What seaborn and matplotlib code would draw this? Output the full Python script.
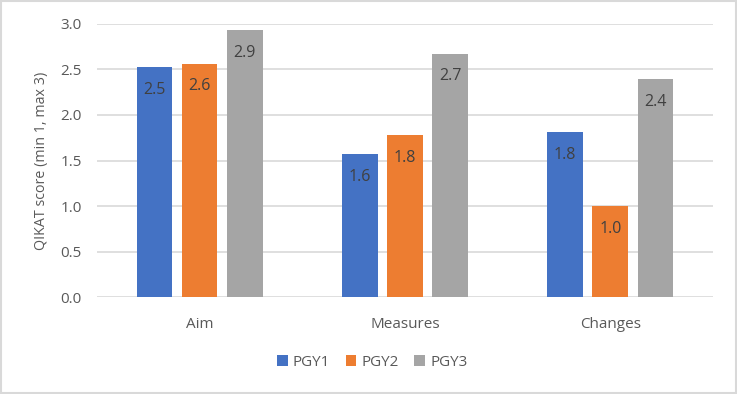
"""
QIKAT score by PGY level - grouped bar chart (Excel style)
"""

import pandas as pd
import matplotlib
matplotlib.use("Agg")
import matplotlib.pyplot as plt
from matplotlib.patches import Rectangle
import seaborn as sns

#data
categories = ["Aim", "Measures", "Changes"]
groups = ["PGY1", "PGY2", "PGY3"]
pgy1 = [2.52, 1.57, 1.81]
pgy2 = [2.56, 1.78, 1.00]
pgy3 = [2.93, 2.67, 2.39]
yticks = [0.0, 0.5, 1.0, 1.5, 2.0, 2.5, 3.0]

colors = ["#4472C4", "#ED7D31", "#A5A5A5"]
text_col = "#595959"

df = pd.DataFrame({
    "category": categories * 3,
    "group": [g for g in groups for _ in categories],
    "score": pgy1 + pgy2 + pgy3,
})

sns.set_style("white")
plt.rcParams["font.family"] = ["Open Sans", "DejaVu Sans"]

fig = plt.figure(figsize=(7.37, 3.94), dpi=100)
ax = fig.add_axes([0.1316, 0.245, 0.8358, 0.695])

sns.barplot(data=df, x="category", y="score", hue="group", order=categories,
            hue_order=groups, palette=colors, width=0.66, gap=0.21,
            saturation=1, linewidth=0, ax=ax, legend=True)

ax.set_ylim(0, 3)
ax.set_xlim(-0.5, 2.5)
ax.set_yticks(yticks)
ax.set_yticklabels([f"{t:.1f}" for t in yticks])
ax.yaxis.grid(True, color="#d9d9d9", linewidth=1.2)
ax.set_axisbelow(True)
for s in ax.spines.values():
    s.set_visible(False)
ax.tick_params(axis="both", length=0, labelsize=11, colors=text_col)
ax.tick_params(axis="y", pad=11)
ax.tick_params(axis="x", pad=14)
ax.set_xlabel("")
ax.set_ylabel("QIKAT score (min 1, max 3)", fontsize=10.3, color=text_col, labelpad=8)

#value labels inside bar tops
for cont in ax.containers:
    ax.bar_label(cont, fmt="%.1f", label_type="edge", padding=-22,
                 fontsize=11.5, color="#404040")

#legend at bottom
handles, labels = ax.get_legend_handles_labels()
ax.legend_.remove()
fig.legend(handles, labels, loc="center", bbox_to_anchor=(0.505, 0.081), ncol=3,
           frameon=False, fontsize=11, handlelength=0.7, handleheight=0.7,
           handletextpad=0.35, columnspacing=1.0, labelcolor=text_col)

#outer border like excel chart area
fig.patches.append(Rectangle((0.002, 0.003), 0.996, 0.994, transform=fig.transFigure,
                             fill=False, edgecolor="#d9d9d9", linewidth=1.5))

fig.savefig("out.png", dpi=100)
